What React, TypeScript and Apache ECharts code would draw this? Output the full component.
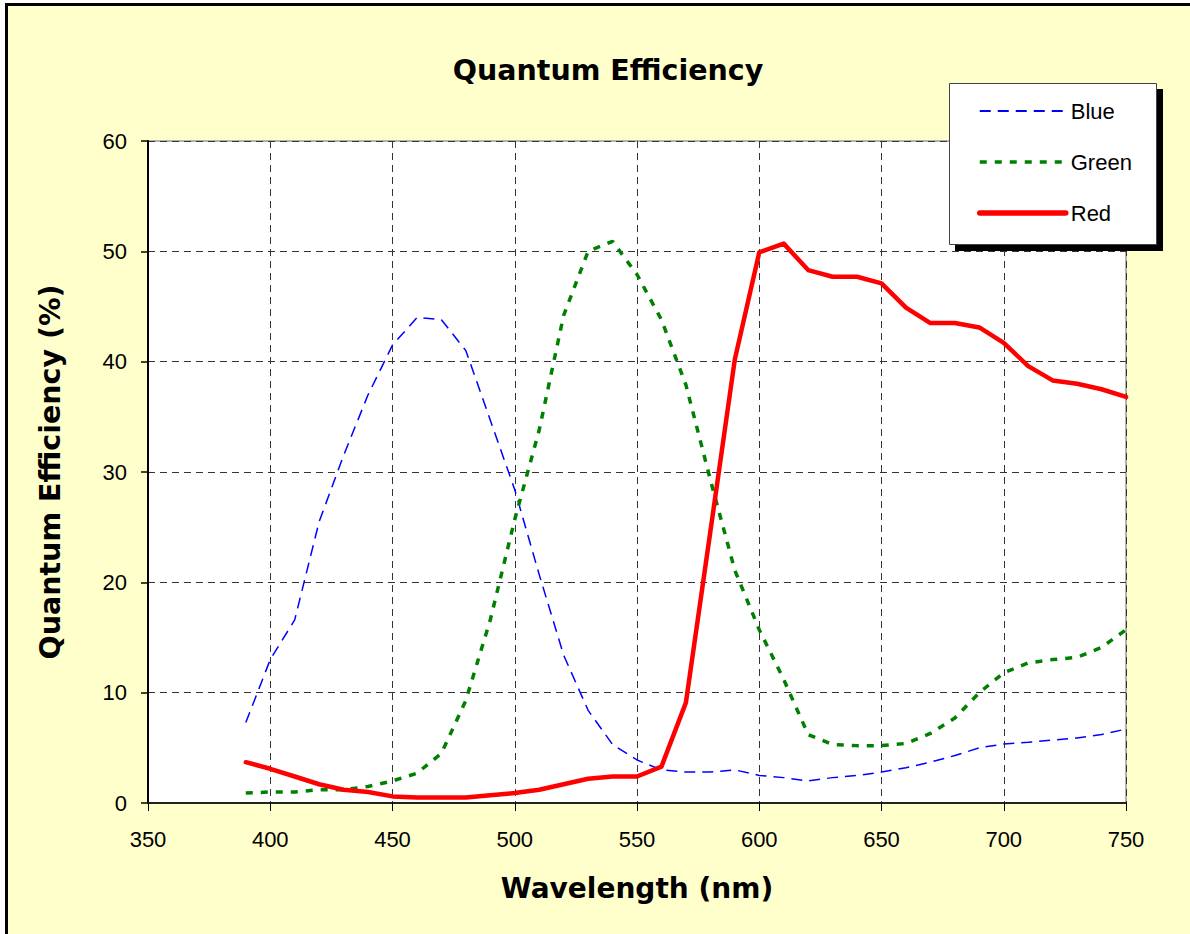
import React, { useEffect, useRef } from "react";
import * as echarts from "echarts";

const wavelengths = [390,400,410,420,430,440,450,460,470,480,490,500,510,520,530,540,550,560,570,580,590,600,610,620,630,640,650,660,670,680,690,700,710,720,730,740,750];
const blueQE = [7.3,13,16.6,25.5,31.5,37,41.5,44,43.8,41,34.7,28.4,20.7,13.4,8.4,5.3,3.9,3.0,2.8,2.8,3.0,2.5,2.3,2.0,2.3,2.5,2.8,3.2,3.7,4.3,5.0,5.35,5.5,5.7,5.9,6.2,6.7];
const greenQE = [0.9,1.0,1.0,1.2,1.2,1.5,2.0,2.7,4.5,9.3,16.6,25.7,33.8,44.2,50,50.9,47.9,43.8,37.9,29.3,21.1,15.7,11.2,6.2,5.3,5.2,5.2,5.4,6.3,7.7,10,11.8,12.7,13.0,13.2,14.1,15.7];
const redQE = [3.7,3.1,2.4,1.7,1.2,1.0,0.6,0.5,0.5,0.5,0.7,0.9,1.2,1.7,2.2,2.4,2.4,3.3,9.1,24.6,40.2,49.9,50.7,48.3,47.7,47.7,47.1,44.9,43.5,43.5,43.1,41.7,39.6,38.3,38.0,37.5,36.8];
const seriesNames = ["Blue", "Green", "Red"];
const xTicks = { min: 350, max: 750, interval: 50 };
const yTicks = { min: 0, max: 60, interval: 10 };

const pairs = (ys: number[]) => wavelengths.map((x, i) => [x, ys[i]]);

export default function App() {
  const ref = useRef<HTMLDivElement>(null);
  useEffect(() => {
    if (!ref.current) return;
    const chart = echarts.init(ref.current, undefined, { renderer: "svg" });
    const boldFont = "DejaVu Sans";
    const plainFont = "Liberation Sans";
    const blueLine = { color: "#0000FF", width: 1.5, type: [11, 7] };
    const greenLine = { color: "#008000", width: 3.5, type: [7, 8] };
    const redLine = { color: "#FF0000", width: 4.5, type: "solid", cap: "round", join: "round" };
    chart.setOption({
      animation: false,
      backgroundColor: "#FFFFCC",
      title: {
        text: "Quantum Efficiency",
        left: 603,
        top: 51,
        textAlign: "center",
        textStyle: { fontFamily: boldFont, fontWeight: "bold", fontSize: 28.5, color: "#000" },
      },
      grid: {
        left: 148, top: 141, right: 64, bottom: 131,
        show: true, backgroundColor: "#FFFFFF", borderColor: "#999999", borderWidth: 1.5,
      },
      legend: {
        orient: "vertical",
        left: 977,
        top: 100,
        z: 8,
        itemWidth: 86,
        itemHeight: 14,
        itemGap: 29,
        padding: 0,
        itemStyle: { opacity: 0 },
        data: [
          { name: seriesNames[0], lineStyle: { width: 2 } },
          { name: seriesNames[1], lineStyle: { width: 3.5 } },
          { name: seriesNames[2], lineStyle: { width: 5.5 } },
        ],
        textStyle: { fontFamily: plainFont, fontSize: 22, color: "#000", lineHeight: 22 },
      },
      xAxis: {
        type: "value",
        min: xTicks.min, max: xTicks.max, interval: xTicks.interval,
        name: "Wavelength (nm)",
        nameLocation: "middle",
        nameGap: 71,
        nameTextStyle: { fontFamily: boldFont, fontWeight: "bold", fontSize: 28, color: "#000" },
        axisLine: { show: true, lineStyle: { color: "#222", width: 2 } },
        axisTick: { show: true, inside: false, length: 8, lineStyle: { color: "#000", width: 1 } },
        axisLabel: { margin: 25, fontFamily: plainFont, fontSize: 22, color: "#000" },
        splitLine: { show: true, lineStyle: { color: "#333", width: 1, type: [7, 5] } },
      },
      yAxis: {
        type: "value",
        min: yTicks.min, max: yTicks.max, interval: yTicks.interval,
        name: "Quantum Efficiency (%)",
        nameLocation: "middle",
        nameRotate: 90,
        nameGap: 83,
        nameTextStyle: { fontFamily: boldFont, fontWeight: "bold", fontSize: 28.5, color: "#000" },
        axisLine: { show: true, lineStyle: { color: "#000", width: 2 } },
        axisTick: { show: true, inside: false, length: 7, lineStyle: { color: "#000", width: 1.5 } },
        axisLabel: { margin: 21, fontFamily: plainFont, fontSize: 22, color: "#000" },
        splitLine: { show: true, lineStyle: { color: "#333", width: 1, type: [7, 5] } },
      },
      graphic: [
        { type: "rect", z: 20, silent: true, shape: { x: 0, y: 0, width: 5, height: 934 }, style: { fill: "#fff" } },
        { type: "rect", z: 20, silent: true, shape: { x: 0, y: 0, width: 1190, height: 3 }, style: { fill: "#fff" } },
        { type: "line", z: 21, silent: true, shape: { x1: 6.5, y1: 3, x2: 6.5, y2: 934 }, style: { stroke: "#000", lineWidth: 3 } },
        { type: "line", z: 21, silent: true, shape: { x1: 5, y1: 4.5, x2: 1190, y2: 4.5 }, style: { stroke: "#000", lineWidth: 3 } },
        { type: "rect", z: 5, silent: true, shape: { x: 955, y: 89, width: 208, height: 162 }, style: { fill: "#000" } },
        { type: "rect", z: 6, silent: true, shape: { x: 949.5, y: 83.5, width: 207, height: 161 }, style: { fill: "#fff", stroke: "#444", lineWidth: 1 } },
      ],
      series: [
        { name: "Blue", type: "line", symbol: "none", data: pairs(blueQE), lineStyle: blueLine, itemStyle: { color: "#0000FF" } },
        { name: "Green", type: "line", symbol: "none", data: pairs(greenQE), lineStyle: greenLine, itemStyle: { color: "#008000" } },
        { name: "Red", type: "line", symbol: "none", data: pairs(redQE), lineStyle: redLine, itemStyle: { color: "#FF0000" } },
      ],
    });
    return () => chart.dispose();
  }, []);
  return <div ref={ref} style={{ position: "absolute", left: 0, top: 0, width: 1190, height: 934 }} />;
}
